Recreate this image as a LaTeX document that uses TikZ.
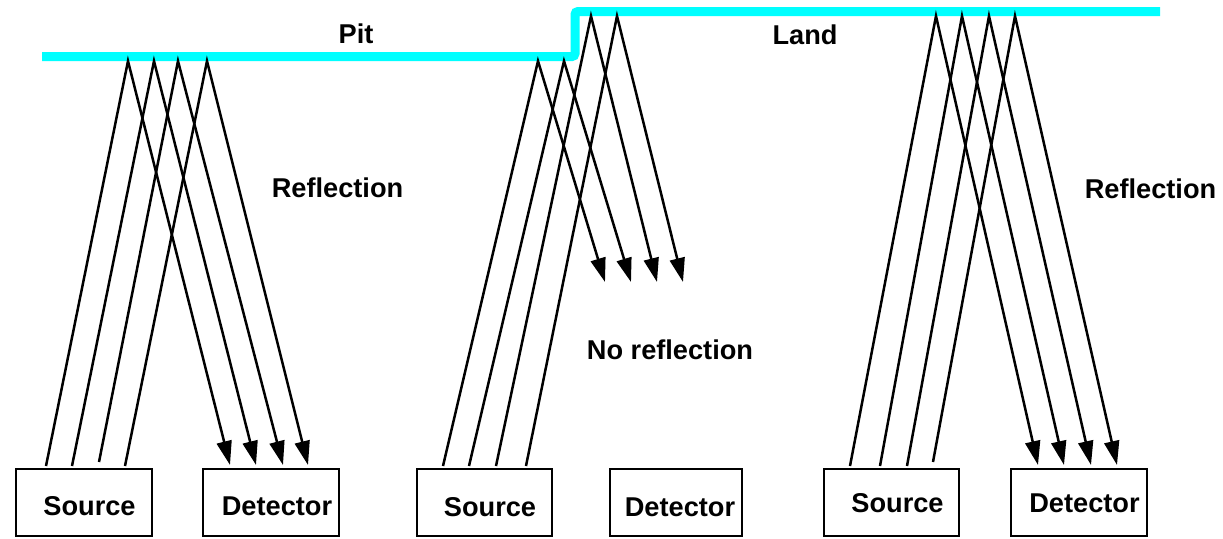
\documentclass[tikz,border=0pt]{standalone}
\usepackage{fontspec}
\setmainfont{Liberation Sans}
\usetikzlibrary{arrows.meta}
\begin{document}
\begin{tikzpicture}[x=0.5pt,y=-0.5pt,
  surface/.style={draw={rgb,255:red,0;green,255;blue,255},line width=4.5pt,rounded corners=1.5pt},
  ray/.style={draw=black,line width=1.25pt},
  rayarrow/.style={ray,-{Triangle[length=12pt,width=7.5pt]}},
  box/.style={draw=black,line width=1.25pt,minimum height=33.5pt,inner sep=0pt},
  lbl/.style={inner sep=0pt,font=\bfseries\fontsize{13.6pt}{16pt}\selectfont}]
\useasboundingbox (0,0) rectangle (1223,538);
% surface
\draw[surface] (42,56.5) -- (575,56.5) -- (575,11.5) -- (1160,11.5);
% labels
\node[lbl] (pit) at (356,34) {Pit};
\node[lbl] (land) at (805,34.5) {Land};
\node[lbl] (refl1) at (337.5,187.5) {Reflection};
\node[lbl] (refl2) at (1150.5,188.5) {Reflection};
\node[lbl] (norefl) at (670,349.5) {No reflection};
% boxes
\node[box,minimum width=68pt] (src1) at (84,502.5) {};
\node[box,minimum width=68pt] (det1) at (271,502.5) {};
\node[box,minimum width=67.5pt] (src2) at (484.5,502.5) {};
\node[box,minimum width=66pt] (det2) at (676,502.5) {};
\node[box,minimum width=67.5pt] (src3) at (891.5,502.5) {};
\node[box,minimum width=68pt] (det3) at (1079,502.5) {};
\node[lbl] (src1t) at (89.5,506) {Source};
\node[lbl] (det1t) at (277,506.5) {Detector};
\node[lbl] (src2t) at (490,507) {Source};
\node[lbl] (det2t) at (680,507) {Detector};
\node[lbl] (src3t) at (897.5,503) {Source};
\node[lbl] (det3t) at (1084.5,503) {Detector};
% left set
\coordinate (a1) at (46,466); \coordinate (b1) at (128,61); \coordinate (c1) at (230,465);
\coordinate (a2) at (72,466); \coordinate (b2) at (154,61); \coordinate (c2) at (256,465);
\coordinate (a3) at (99,462); \coordinate (b3) at (178,61); \coordinate (c3) at (283,465);
\coordinate (a4) at (125,466); \coordinate (b4) at (207,61); \coordinate (c4) at (308,465);
\foreach \i in {1,2,3,4} {\draw[rayarrow] (a\i) -- (b\i) -- (c\i);}
% middle set
\coordinate (d1) at (443,466); \coordinate (e1) at (538,61); \coordinate (f1) at (605,282);
\coordinate (d2) at (469,466); \coordinate (e2) at (564,61); \coordinate (f2) at (631,282);
\coordinate (d3) at (496,466); \coordinate (e3) at (591,16); \coordinate (f3) at (657,282);
\coordinate (d4) at (526,466); \coordinate (e4) at (617,16); \coordinate (f4) at (683,282);
\foreach \i in {1,2,3,4} {\draw[rayarrow] (d\i) -- (e\i) -- (f\i);}
% right set
\coordinate (g1) at (850,466); \coordinate (h1) at (936,16); \coordinate (k1) at (1038,465);
\coordinate (g2) at (880,466); \coordinate (h2) at (962,16); \coordinate (k2) at (1064,465);
\coordinate (g3) at (907,466); \coordinate (h3) at (989,16); \coordinate (k3) at (1091,465);
\coordinate (g4) at (933,462); \coordinate (h4) at (1015,16); \coordinate (k4) at (1117,465);
\foreach \i in {1,2,3,4} {\draw[rayarrow] (g\i) -- (h\i) -- (k\i);}
\end{tikzpicture}
\end{document}
